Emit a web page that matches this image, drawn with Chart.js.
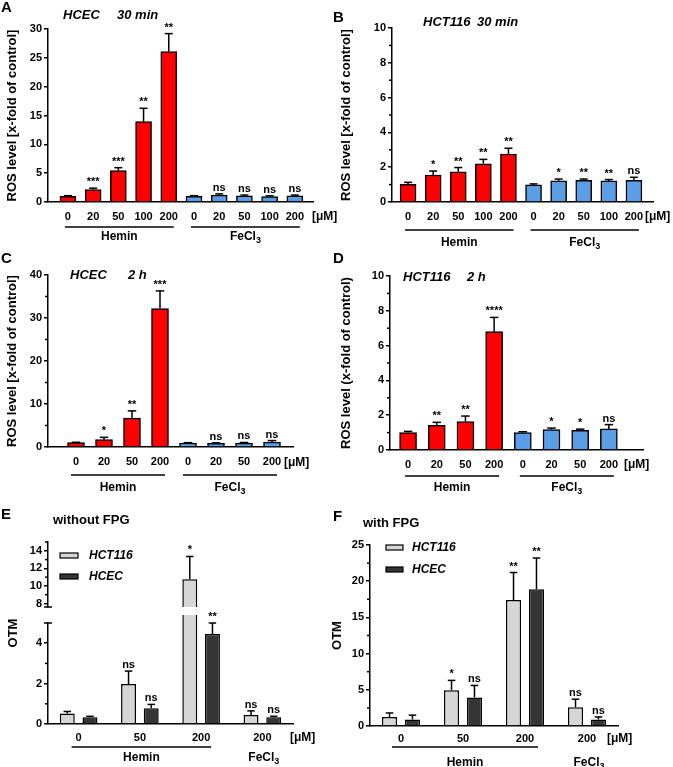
<!DOCTYPE html>
<html>
<head>
<meta charset="utf-8">
<script src="https://cdn.jsdelivr.net/npm/chart.js@4.4.0/dist/chart.umd.min.js"></script>
<style>
body { margin: 0; background: #fff; }
#fig { position: relative; width: 673px; height: 767px; overflow: hidden; }
#fig canvas { position: absolute; }
</style>
</head>
<body>
<div id="fig"></div>
<script>
// ---- data ----
var dosesLong = ['0', '20', '50', '100', '200', '0', '20', '50', '100', '200'];
var dosesShort = ['0', '20', '50', '200', '0', '20', '50', '200'];
var otmDoses = ['0', '50', '200', '200'];

// A: HCEC 30 min
var rosHcec30 = [1.0, 2.15, 5.45, 13.95, 26.1, 1.0, 1.2, 1.05, 0.95, 1.05];
var errHcec30 = [0.1, 0.25, 0.5, 2.3, 3.1, 0.1, 0.2, 0.15, 0.12, 0.15];
var sigHcec30 = ['', '***', '***', '**', '**', '', 'ns', 'ns', 'ns', 'ns'];
// B: HCT116 30 min
var rosHct30 = [1.02, 1.55, 1.73, 2.2, 2.76, 0.98, 1.21, 1.25, 1.21, 1.25];
var errHct30 = [0.11, 0.23, 0.25, 0.25, 0.33, 0.06, 0.11, 0.07, 0.08, 0.17];
var sigHct30 = ['', '*', '**', '**', '**', '', '*', '**', '**', 'ns'];
// C: HCEC 2 h
var rosHcec2h = [1.0, 1.7, 6.7, 32.2, 0.93, 0.85, 0.9, 1.15];
var errHcec2h = [0.1, 0.55, 1.7, 4.1, 0.08, 0.12, 0.15, 0.35];
var sigHcec2h = ['', '*', '**', '***', '', 'ns', 'ns', 'ns'];
// D: HCT116 2 h
var rosHct2h = [1.0, 1.42, 1.63, 6.8, 1.0, 1.17, 1.13, 1.21];
var errHct2h = [0.07, 0.17, 0.32, 0.82, 0.05, 0.09, 0.07, 0.25];
var sigHct2h = ['', '**', '**', '****', '', '*', '*', 'ns'];
// E: OTM without FPG
var otmHct116NoFpg = [0.52, 1.98, 10.75, 0.45];
var errHct116NoFpg = [0.1, 0.64, 2.6, 0.2];
var sigHct116NoFpg = ['', 'ns', '*', 'ns'];
var otmHcecNoFpg = [0.33, 0.78, 4.45, 0.33];
var errHcecNoFpg = [0.05, 0.19, 0.55, 0.05];
var sigHcecNoFpg = ['', 'ns', '**', 'ns'];
// F: OTM with FPG
var otmHct116Fpg = [1.25, 4.95, 17.4, 2.6];
var errHct116Fpg = [0.55, 1.35, 3.8, 1.1];
var sigHct116Fpg = ['', '*', '**', 'ns'];
var otmHcecFpg = [0.9, 3.95, 18.9, 0.9];
var errHcecFpg = [0.6, 1.65, 4.3, 0.35];
var sigHcecFpg = ['', 'ns', '**', 'ns'];

// axis ticks
var ticksA = [0, 5, 10, 15, 20, 25, 30];
var ticksB = [0, 2, 4, 6, 8, 10];
var minorB = [1, 3, 5, 7, 9];
var ticksC = [0, 10, 20, 30, 40];
var minorC = [5, 15, 25, 35];
var ticksELow = [0, 2, 4];
var minorELow = [1, 3];
var ticksEHigh = [8, 10, 12, 14];
var minorEHigh = [9, 11, 13, 15];
var ticksF = [0, 5, 10, 15, 20, 25];
var minorF = [2.5, 7.5, 12.5, 17.5, 22.5];

var FAM = "'Liberation Sans', Arial, Helvetica, sans-serif";
var RED = '#ff0000', BLUE = '#5b9ee6', GREY_L = '#d6d6d6', GREY_D = '#353535';

Chart.defaults.font.family = FAM;
Chart.defaults.font.size = 11;
Chart.defaults.font.weight = 'bold';
Chart.defaults.color = '#000';

function addCanvas(box) {
    var c = document.createElement('canvas');
    c.width = box[2];
    c.height = box[3];
    c.style.left = box[0] + 'px';
    c.style.top = box[1] + 'px';
    document.getElementById('fig').appendChild(c);
    return c;
}

function line(ctx, x1, y1, x2, y2) {
    ctx.beginPath();
    ctx.moveTo(x1, y1);
    ctx.lineTo(x2, y2);
    ctx.stroke();
}

function label(ctx, s, x, y, font, align) {
    ctx.font = font;
    ctx.textAlign = align || 'left';
    ctx.textBaseline = 'middle';
    ctx.fillText(s, x, y);
}

function chem(ctx, s, sub, cx, y) {
    ctx.font = 'bold 12px ' + FAM;
    var w1 = ctx.measureText(s).width, w2 = 0;
    if (sub) {
        ctx.font = 'bold 9px ' + FAM;
        w2 = ctx.measureText(sub).width;
    }
    var x = cx - (w1 + w2) / 2;
    label(ctx, s, x, y, 'bold 12px ' + FAM);
    if (sub) label(ctx, sub, x + w1, y + 4, 'bold 9px ' + FAM);
}

// annotations: minor ticks, error bars, stars, group lines, titles
function makeDecor(d) {
    return {
        id: 'decor',
        afterDatasetsDraw: function (chart) {
            var ctx = chart.ctx, xs = chart.scales.x, ys = chart.scales.y, ca = chart.chartArea;
            var ox = d.box[0], oy = d.box[1];
            ctx.save();
            ctx.strokeStyle = '#000';
            ctx.fillStyle = '#000';
            ctx.lineWidth = 1.5;

            (d.minor || []).forEach(function (m) {
                var py = ys.getPixelForValue(m);
                line(ctx, ca.left - 3, py, ca.left, py);
            });
            if (d.capTop) line(ctx, ca.left - 4, ca.top, ca.left + 4, ca.top);
            if (d.capBottom) line(ctx, ca.left - 4, ca.bottom, ca.left + 4, ca.bottom);

            chart.data.datasets.forEach(function (ds, di) {
                var meta = chart.getDatasetMeta(di);
                meta.data.forEach(function (bar, i) {
                    var v = meta.controller.getParsed(i).y;
                    if (v < ys.min || v > ys.max) return;
                    var top = ys.getPixelForValue(v + ds.err[i]);
                    var half = bar.width * 0.25;
                    line(ctx, bar.x, bar.y, bar.x, top);
                    line(ctx, bar.x - half, top, bar.x + half, top);
                    if (ds.sig[i]) {
                        ctx.font = 'bold 11px ' + FAM;
                        ctx.textAlign = 'center';
                        ctx.textBaseline = 'alphabetic';
                        ctx.fillText(ds.sig[i], bar.x, top - 3);
                    }
                });
            });

            (d.texts || []).forEach(function (t) {
                label(ctx, t[0], t[1] - ox, t[2] - oy, t[3]);
            });

            if (d.unit) label(ctx, '[\u03bcM]', d.unit[0] - ox, d.unit[1] - oy, 'bold 12px ' + FAM);

            (d.groups || []).forEach(function (g) {
                var x1 = xs.getPixelForValue(g.from) + d.ext[0];
                var x2 = xs.getPixelForValue(g.to) + d.ext[1];
                if (g.line) line(ctx, x1, d.lineY - oy, x2, d.lineY - oy);
                chem(ctx, g.text, g.sub, (x1 + x2) / 2, d.groupY - oy);
            });

            if (d.rotTitle) {
                ctx.save();
                ctx.translate(d.rotTitle[1] - ox, d.rotTitle[2] - oy);
                ctx.rotate(-Math.PI / 2);
                label(ctx, d.rotTitle[0], 0, 0, 'bold 13px ' + FAM, 'center');
                ctx.restore();
            }

            (d.legend || []).forEach(function (l) {
                ctx.fillStyle = l[4];
                ctx.fillRect(l[0] - ox, l[1] - oy, l[2], l[3]);
                ctx.lineWidth = 1.2;
                ctx.strokeRect(l[0] - ox, l[1] - oy, l[2], l[3]);
                ctx.fillStyle = '#000';
                label(ctx, l[5], l[6] - ox, l[1] - oy + l[3] / 2, 'italic bold 12px ' + FAM);
            });
            ctx.restore();
        }
    };
}

function yScale(p) {
    return {
        min: p.yMin || 0,
        max: p.yMax,
        afterBuildTicks: function (s) { s.ticks = p.yTicks.map(function (v) { return {value: v}; }); },
        ticks: {padding: 2, font: {size: 11, weight: 'bold'}},
        grid: {drawOnChartArea: false, tickLength: 4, color: '#000', lineWidth: 1.5},
        border: {color: '#000', width: 1.5},
        title: {
            display: !!p.yTitle, text: p.yTitle, color: '#000',
            font: {size: 13, weight: 'bold'}, padding: {top: p.yTitlePad || 0, bottom: 0}
        },
        afterFit: function (s) { s.width = p.area.l - p.box[0]; }
    };
}

function layoutPad(p) {
    return {
        left: 0,
        top: p.area.t - p.box[1],
        right: p.box[0] + p.box[2] - p.area.r,
        bottom: 0
    };
}

// ROS panels (A-D): one bar per dose on a linear index axis
function rosPanel(p) {
    var canvas = addCanvas(p.box);
    var half = p.values.length / 2;
    return new Chart(canvas, {
        type: 'bar',
        data: {
            datasets: [{
                data: p.values.map(function (v, i) { return {x: i, y: v}; }),
                backgroundColor: p.values.map(function (v, i) { return i < half ? RED : BLUE; }),
                borderColor: '#000',
                borderWidth: 1.5,
                barThickness: p.barW,
                err: p.err,
                sig: p.sig
            }]
        },
        options: {
            responsive: false,
            animation: false,
            events: [],
            layout: {padding: layoutPad(p)},
            plugins: {legend: {display: false}, tooltip: {enabled: false}},
            scales: {
                x: {
                    type: 'linear',
                    offset: false,
                    min: p.xMin,
                    max: p.xMax,
                    afterBuildTicks: function (s) { s.ticks = p.labels.map(function (l, i) { return {value: i}; }); },
                    ticks: {
                        callback: function (v) { return p.labels[v]; },
                        autoSkip: false, maxRotation: 0, padding: 8,
                        font: {size: 11, weight: 'bold'}
                    },
                    grid: {drawOnChartArea: false, drawTicks: false, offset: false},
                    border: {color: '#000', width: 1.5},
                    afterFit: function (s) { s.height = p.box[1] + p.box[3] - p.area.b; }
                },
                y: yScale(p)
            }
        },
        plugins: [makeDecor(p)]
    });
}

// OTM panels (E, F): grouped bars for the two cell lines
function otmPanel(p) {
    var canvas = addCanvas(p.box);
    function ds(name, vals, err, sig, color) {
        return {
            label: name, data: vals, err: err, sig: sig,
            backgroundColor: color, borderColor: '#000', borderWidth: 1.5,
            categoryPercentage: 0.74, barPercentage: 0.66,
            clip: p.clip
        };
    }
    return new Chart(canvas, {
        type: 'bar',
        data: {
            labels: otmDoses,
            datasets: [
                ds('HCT116', p.a, p.aErr, p.aSig, GREY_L),
                ds('HCEC', p.b, p.bErr, p.bSig, GREY_D)
            ]
        },
        options: {
            responsive: false,
            animation: false,
            events: [],
            layout: {padding: layoutPad(p)},
            plugins: {legend: {display: false}, tooltip: {enabled: false}},
            scales: {
                x: {
                    display: !p.hideX,
                    ticks: {padding: p.xPad || 7, maxRotation: 0, autoSkip: false, font: {size: 11, weight: 'bold'}},
                    grid: {drawOnChartArea: false, drawTicks: false},
                    border: {color: '#000', width: 1.5},
                    afterFit: function (s) { s.height = p.box[1] + p.box[3] - p.area.b; }
                },
                y: yScale(p)
            }
        },
        plugins: [makeDecor(p)]
    });
}

var hemFe = [{text: 'Hemin', from: 0, to: 4, line: true}, {text: 'FeCl', sub: '3', from: 5, to: 9, line: true}];
var hemFe4 = [{text: 'Hemin', from: 0, to: 3, line: true}, {text: 'FeCl', sub: '3', from: 4, to: 7, line: true}];
var hemFeOtm = [{text: 'Hemin', from: 0, to: 2, line: true}, {text: 'FeCl', sub: '3', from: 3, to: 3, line: false}];
var LET = 'bold 15px ' + FAM, TIT = 'italic bold 13px ' + FAM, TIT2 = 'bold 13px ' + FAM;

rosPanel({
    box: [0, 0, 345, 255], area: {l: 48, t: 29, r: 313, b: 202},
    values: rosHcec30, err: errHcec30, sig: sigHcec30, labels: dosesLong,
    xMin: -0.79, xMax: 9.72, barW: 16, yMax: 30, yTicks: ticksA, minor: [],
    yTitle: 'ROS level [x-fold of control]', yTitlePad: 5,
    texts: [['A', 1, 8, LET], ['HCEC', 63, 15, TIT], ['30 min', 117, 15, TIT]],
    unit: [312, 217], groups: hemFe, ext: [-3, 5], lineY: 227, groupY: 237
});

rosPanel({
    box: [330, 0, 343, 255], area: {l: 392, t: 28, r: 653, b: 202},
    values: rosHct30, err: errHct30, sig: sigHct30, labels: dosesLong,
    xMin: -0.64, xMax: 9.76, barW: 16, yMax: 10, yTicks: ticksB, minor: minorB,
    yTitle: 'ROS level [x-fold of control]', yTitlePad: 9,
    texts: [['B', 333, 18, LET], ['HCT116', 423, 22, TIT], ['30 min', 477, 22, TIT]],
    unit: [645, 217], groups: hemFe, ext: [-3, 5], lineY: 230, groupY: 243
});

rosPanel({
    box: [0, 250, 345, 250], area: {l: 48, t: 275, r: 293, b: 447},
    values: rosHcec2h, err: errHcec2h, sig: sigHcec2h, labels: dosesShort,
    xMin: -1.0, xMax: 7.75, barW: 17, yMax: 40, yTicks: ticksC, minor: minorC,
    yTitle: 'ROS level [x-fold of control]', yTitlePad: 5,
    texts: [['C', 1, 259, LET], ['HCEC', 70, 275, TIT], ['2 h', 128, 275, TIT]],
    unit: [284, 463], groups: hemFe4, ext: [-5, 5], lineY: 475, groupY: 488
});

rosPanel({
    box: [330, 250, 343, 250], area: {l: 390, t: 276, r: 643, b: 450},
    values: rosHct2h, err: errHct2h, sig: sigHct2h, labels: dosesShort,
    xMin: -0.63, xMax: 8.19, barW: 17, yMax: 10, yTicks: ticksB, minor: minorB,
    yTitle: 'ROS level (x-fold of control)', yTitlePad: 9,
    texts: [['D', 333, 259, LET], ['HCT116', 403, 277, TIT], ['2 h', 467, 277, TIT]],
    unit: [624, 465], groups: hemFe4, ext: [-3, 5], lineY: 476, groupY: 488
});

// E: broken y axis, lower segment 0-5
otmPanel({
    box: [0, 500, 345, 267], area: {l: 48, t: 623, r: 293, b: 724},
    a: otmHct116NoFpg, aErr: errHct116NoFpg, aSig: sigHct116NoFpg,
    b: otmHcecNoFpg, bErr: errHcecNoFpg, bSig: sigHcecNoFpg,
    yMax: 5, yTicks: ticksELow, minor: minorELow, capTop: true,
    clip: {left: false, top: 8, right: false, bottom: false},
    texts: [['E', 1, 515, LET], ['without FPG', 53, 520, TIT2]],
    rotTitle: ['OTM', 13, 633],
    unit: [290, 738], groups: hemFeOtm, ext: [-7, 10], lineY: 747, groupY: 758, xPad: 7
});

// E: upper segment 8-15 (x axis hidden but keeps its space)
otmPanel({
    box: [0, 500, 345, 267], area: {l: 48, t: 542, r: 293, b: 607}, hideX: true,
    a: otmHct116NoFpg, aErr: errHct116NoFpg, aSig: sigHct116NoFpg,
    b: otmHcecNoFpg, bErr: errHcecNoFpg, bSig: sigHcecNoFpg,
    yMin: 7.6, yMax: 15, yTicks: ticksEHigh, minor: minorEHigh, capBottom: true,
    clip: {left: false, top: false, right: false, bottom: 0},
    legend: [[60, 553, 18, 5, GREY_L, 'HCT116', 89], [60, 574, 18, 5, GREY_D, 'HCEC', 89]]
});

otmPanel({
    box: [330, 500, 343, 267], area: {l: 370, t: 545, r: 618, b: 726},
    a: otmHct116Fpg, aErr: errHct116Fpg, aSig: sigHct116Fpg,
    b: otmHcecFpg, bErr: errHcecFpg, bSig: sigHcecFpg,
    yMax: 25, yTicks: ticksF, minor: minorF,
    yTitle: 'OTM', yTitlePad: 0,
    texts: [['F', 333, 517, LET], ['with FPG', 363, 523, TIT2]],
    legend: [[386, 545, 17, 5, GREY_L, 'HCT116', 412], [386, 567, 17, 5, GREY_D, 'HCEC', 412]],
    unit: [607, 739], groups: hemFeOtm, ext: [-9, 13], lineY: 747, groupY: 763, xPad: 6
});
</script>
</body>
</html>
